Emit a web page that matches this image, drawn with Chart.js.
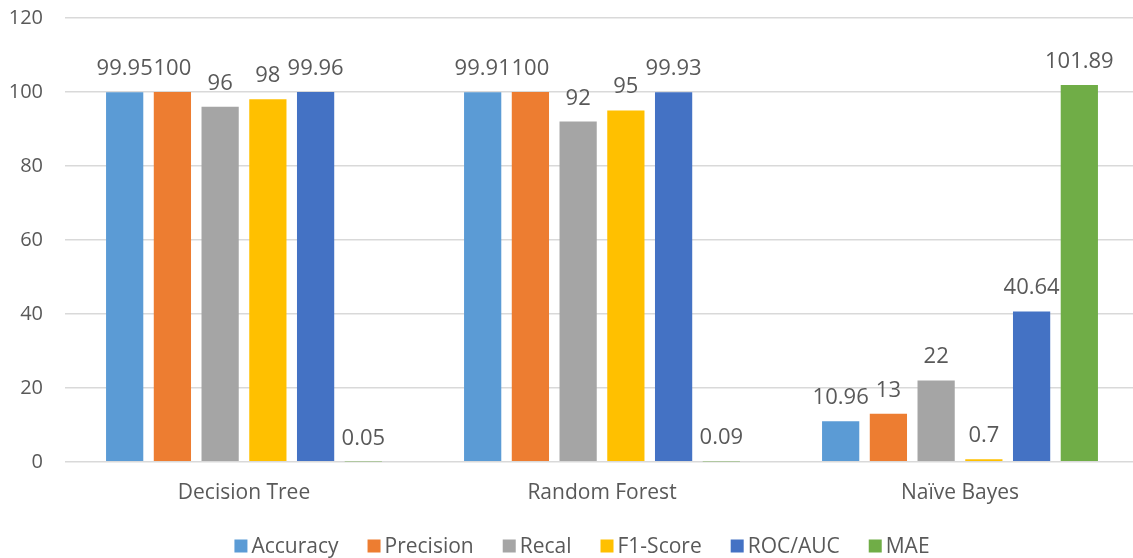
<!DOCTYPE html>
<html>
<head>
<meta charset="utf-8">
<script src="https://cdn.jsdelivr.net/npm/chart.js@4/dist/chart.umd.min.js"></script>
<style>
  html, body { margin: 0; padding: 0; background: #fff; overflow: hidden; }
  #wrap { position: relative; width: 1139px; height: 558px; }
</style>
</head>
<body>
<div id="wrap"><canvas id="c"></canvas></div>
<script>
// Models compared
const categories = ['Decision Tree', 'Random Forest', 'Naïve Bayes'];

// Metric values per model (Decision Tree, Random Forest, Naïve Bayes)
const accuracy  = [99.95, 99.91, 10.96];
const precision = [100, 100, 13];
const recal     = [96, 92, 22];
const f1Score   = [98, 95, 0.7];
const rocAuc    = [99.96, 99.93, 40.64];
const mae       = [0.05, 0.09, 101.89];

const seriesNames = ['Accuracy', 'Precision', 'Recal', 'F1-Score', 'ROC/AUC', 'MAE'];
const seriesValues = [accuracy, precision, recal, f1Score, rocAuc, mae];
const seriesColors = ['#5B9BD5', '#ED7D31', '#A5A5A5', '#FFC000', '#4472C4', '#70AD47'];

const yTicks = [0, 20, 40, 60, 80, 100, 120];

const textColor = '#595959';
const fontFamily = '"Open Sans", "DejaVu Sans", sans-serif';

// Value labels drawn above each bar
const valueLabels = {
  id: 'valueLabels',
  afterDatasetsDraw(chart) {
    const ctx = chart.ctx;
    ctx.save();
    ctx.font = '22px ' + fontFamily;
    ctx.fillStyle = textColor;
    ctx.textAlign = 'center';
    ctx.textBaseline = 'alphabetic';
    chart.data.datasets.forEach((ds, i) => {
      const meta = chart.getDatasetMeta(i);
      meta.data.forEach((el, j) => {
        ctx.fillText(String(ds.data[j]), el.x, el.y - 17);
      });
    });
    ctx.restore();
  }
};

// Compact legend row under the axis: square swatch, short gap, name
const bottomLegend = {
  id: 'bottomLegend',
  afterDraw(chart) {
    const ctx = chart.ctx;
    const box = 13, gap = 4, spacing = 29;
    ctx.save();
    ctx.font = '21px ' + fontFamily;
    ctx.textBaseline = 'middle';
    ctx.textAlign = 'left';
    const items = chart.data.datasets.map(ds => ({
      text: ds.label, color: ds.backgroundColor, w: ctx.measureText(ds.label).width
    }));
    const total = items.reduce((s, it) => s + box + gap + it.w, 0) + spacing * (items.length - 1);
    const cx = (chart.chartArea.left + chart.chartArea.right) / 2 - 20;
    const cy = chart.height - 12;
    let x = cx - total / 2;
    items.forEach(it => {
      ctx.fillStyle = it.color;
      ctx.fillRect(x, cy - box / 2, box, box);
      ctx.fillStyle = textColor;
      ctx.fillText(it.text, x + box + gap, cy + 1);
      x += box + gap + it.w + spacing;
    });
    ctx.restore();
  }
};

new Chart(document.getElementById('c'), {
  type: 'bar',
  data: {
    labels: categories,
    datasets: seriesNames.map((name, i) => ({
      label: name,
      data: seriesValues[i],
      backgroundColor: seriesColors[i],
      borderWidth: 0,
      barPercentage: 0.78,
      categoryPercentage: 0.8
    }))
  },
  options: {
    responsive: true,
    maintainAspectRatio: false,
    animation: false,
    layout: { padding: { top: 18, right: 0, bottom: 41, left: 0 } },
    plugins: {
      tooltip: { enabled: false },
      legend: { display: false }
    },
    scales: {
      x: {
        grid: { display: false },
        border: { display: false },
        ticks: {
          color: textColor,
          font: { family: fontFamily, size: 21 },
          padding: 11
        }
      },
      y: {
        min: 0,
        max: 120,
        afterBuildTicks(axis) { axis.ticks = yTicks.map(v => ({ value: v })); },
        afterFit(axis) { axis.width = 65; },
        grid: {
          color: '#D9D9D9',
          lineWidth: 1.5,
          drawTicks: true,
          tickLength: 22,
          tickColor: 'rgba(0,0,0,0)'
        },
        border: { display: false },
        ticks: {
          color: textColor,
          font: { family: fontFamily, size: 20 },
          padding: 0
        }
      }
    }
  },
  plugins: [valueLabels, bottomLegend]
});
</script>
</body>
</html>
